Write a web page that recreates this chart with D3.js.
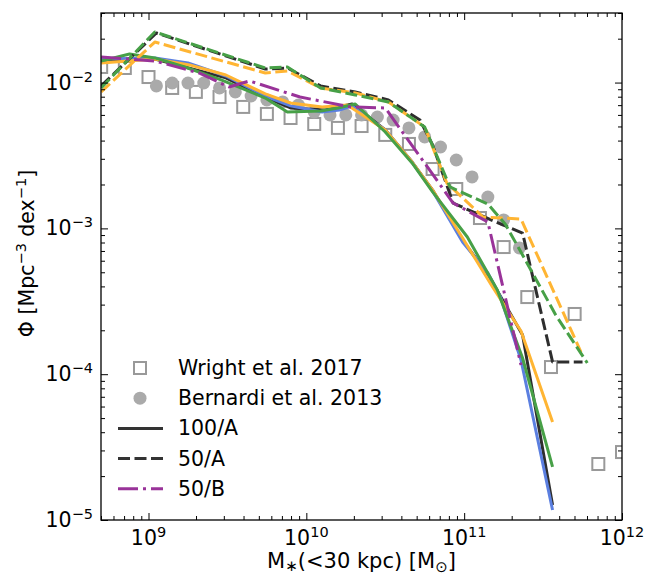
<!DOCTYPE html>
<meta charset="utf-8">
<style>
body { margin: 0; background: #fff; }
text { font-family: "DejaVu Sans", sans-serif; fill: #000; }
.axis path { display: none; }
.axis line { stroke: #000; stroke-width: 1; }
.line { fill: none; stroke-width: 3; stroke-linejoin: round; }
</style>
<svg width="646" height="576"></svg>
<script src="https://cdn.jsdelivr.net/npm/d3@7"></script>
<script>
// log10(M*/Msun) and log10(Phi)
var wrightLogM   = [8.70, 8.85, 9.00, 9.15, 9.30, 9.45, 9.60, 9.75, 9.90, 10.05, 10.20, 10.35, 10.50, 10.65, 10.80, 10.95, 11.10, 11.25, 11.40, 11.55, 11.70, 11.85, 12.00];
var wrightLogPhi = [-1.893, -1.900, -1.962, -2.037, -2.064, -2.099, -2.167, -2.215, -2.243, -2.284, -2.311, -2.298, -2.359, -2.421, -2.593, -2.730, -2.929, -3.128, -3.471, -3.951, -3.587, -4.616, -4.534];

var bernardiLogM   = [9.05, 9.15, 9.25, 9.35, 9.45, 9.55, 9.65, 9.75, 9.85, 9.95, 10.05, 10.15, 10.25, 10.35, 10.45, 10.55, 10.65, 10.75, 10.85, 10.95, 11.05, 11.15, 11.25, 11.35];
var bernardiLogPhi = [-2.023, -2.003, -2.003, -2.003, -2.037, -2.064, -2.092, -2.119, -2.133, -2.154, -2.202, -2.222, -2.222, -2.222, -2.236, -2.257, -2.311, -2.373, -2.442, -2.531, -2.647, -2.785, -2.942, -3.134];

// 100/A, solid
var blackSolidLogM   = [8.70, 9.04, 9.49, 9.74, 9.90, 10.12, 10.29, 10.50, 10.67, 10.80, 10.99, 11.16, 11.37, 11.56];
var blackSolidLogPhi = [-1.845, -1.838, -1.968, -2.099, -2.174, -2.188, -2.147, -2.325, -2.545, -2.737, -3.080, -3.333, -3.731, -4.897];
var blueSolidLogM    = [8.70, 9.04, 9.25, 9.49, 9.74, 9.90, 10.10, 10.21, 10.29, 10.50, 10.67, 10.80, 10.99, 11.15, 11.23, 11.36, 11.56];
var blueSolidLogPhi  = [-1.838, -1.831, -1.866, -1.955, -2.092, -2.160, -2.202, -2.188, -2.160, -2.325, -2.545, -2.743, -3.093, -3.306, -3.471, -3.903, -4.931];
var orangeSolidLogM   = [8.70, 9.04, 9.26, 9.49, 9.74, 9.90, 10.10, 10.26, 10.50, 10.67, 10.80, 10.99, 11.18, 11.36, 11.56];
var orangeSolidLogPhi = [-1.866, -1.838, -1.879, -1.948, -2.078, -2.140, -2.167, -2.154, -2.325, -2.545, -2.737, -3.066, -3.402, -3.704, -4.328];
var greenSolidLogM   = [8.70, 8.88, 9.04, 9.23, 9.46, 9.74, 9.88, 10.09, 10.20, 10.31, 10.50, 10.67, 10.80, 11.02, 11.21, 11.37, 11.56];
var greenSolidLogPhi = [-1.852, -1.804, -1.831, -1.893, -1.982, -2.106, -2.202, -2.195, -2.174, -2.147, -2.339, -2.551, -2.750, -3.059, -3.422, -3.889, -4.636];

// 50/A, dashed
var blackDashLogM   = [8.70, 9.05, 9.74, 9.88, 10.09, 10.31, 10.52, 10.72, 10.80, 10.93, 11.17, 11.37, 11.56, 11.75];
var blackDashLogPhi = [-2.023, -1.660, -1.907, -1.900, -2.023, -2.064, -2.119, -2.257, -2.428, -2.826, -2.942, -3.032, -3.916, -3.916];
var orangeDashLogM   = [8.70, 9.04, 9.74, 9.88, 10.09, 10.31, 10.52, 10.75, 10.89, 11.12, 11.36, 11.74];
var orangeDashLogPhi = [-2.064, -1.722, -1.934, -1.920, -2.037, -2.071, -2.133, -2.305, -2.689, -2.922, -2.936, -3.848];
var greenDashLogM   = [8.70, 9.04, 9.74, 9.88, 10.09, 10.31, 10.52, 10.75, 10.91, 11.15, 11.26, 11.37, 11.58, 11.78];
var greenDashLogPhi = [-2.037, -1.653, -1.900, -1.893, -2.037, -2.085, -2.133, -2.305, -2.716, -2.833, -2.970, -3.182, -3.594, -3.923];

// 50/B, dash-dot
var purpleLogM   = [8.70, 9.04, 9.32, 9.51, 9.64, 9.96, 10.28, 10.50, 10.93, 11.15, 11.36];
var purpleLogPhi = [-1.824, -1.852, -1.934, -2.030, -1.989, -2.099, -2.167, -2.174, -2.826, -2.956, -3.937];

var xMajorExp = [9, 10, 11, 12];
var yMajorExp = [-5, -4, -3, -2];
var legendLabels = ["Wright et al. 2017", "Bernardi et al. 2013", "100/A", "50/A", "50/B"];

var cBlack = "#2e2e2e", cBlue = "#5b7fe0", cOrange = "#ffb533", cGreen = "#47a047", cPurple = "#993399";
var dashed = "12,4.5", dashdot = "20,5,3,5";

var series = [
  {m: blackSolidLogM, p: blackSolidLogPhi, color: cBlack, dash: null},
  {m: blueSolidLogM, p: blueSolidLogPhi, color: cBlue, dash: null},
  {m: orangeSolidLogM, p: orangeSolidLogPhi, color: cOrange, dash: null},
  {m: greenSolidLogM, p: greenSolidLogPhi, color: cGreen, dash: null},
  {m: blackDashLogM, p: blackDashLogPhi, color: cBlack, dash: dashed},
  {m: orangeDashLogM, p: orangeDashLogPhi, color: cOrange, dash: dashed},
  {m: greenDashLogM, p: greenDashLogPhi, color: cGreen, dash: dashed},
  {m: purpleLogM, p: purpleLogPhi, color: cPurple, dash: dashdot}
];

function pairs(m, p) { return m.map(function(v, i) { return [Math.pow(10, v), Math.pow(10, p[i])]; }); }

var svg = d3.select("svg"),
    margin = {top: 13, right: 24, bottom: 56, left: 101},
    width = +svg.attr("width") - margin.left - margin.right,
    height = +svg.attr("height") - margin.top - margin.bottom,
    g = svg.append("g").attr("transform", "translate(" + margin.left + "," + margin.top + ")");

var x = d3.scaleLog().domain([5e8, 1e12]).range([0, width]),
    y = d3.scaleLog().domain([1e-5, 3e-2]).range([height, 0]);

function minors(lo, hi) {
  var out = [];
  for (var e = Math.floor(Math.log10(lo)); e <= Math.ceil(Math.log10(hi)); e++)
    for (var k = 2; k <= 9; k++) { var v = k * Math.pow(10, e); if (v >= lo && v <= hi) out.push(v); }
  return out;
}
var xMajor = xMajorExp.map(function(e) { return Math.pow(10, e); }),
    yMajor = yMajorExp.map(function(e) { return Math.pow(10, e); }),
    xMinor = minors(5e8, 1e12), yMinor = minors(1e-5, 3e-2);

g.append("clipPath").attr("id", "clip").append("rect").attr("width", width).attr("height", height);
var plot = g.append("g").attr("clip-path", "url(#clip)");

// observations
plot.selectAll(".sq").data(pairs(wrightLogM, wrightLogPhi)).enter().append("rect")
    .attr("x", function(d) { return x(d[0]) - 6; })
    .attr("y", function(d) { return y(d[1]) - 6; })
    .attr("width", 12).attr("height", 12)
    .style("fill", "none").style("stroke", "#999").style("stroke-width", 2);
plot.selectAll(".ci").data(pairs(bernardiLogM, bernardiLogPhi)).enter().append("circle")
    .attr("cx", function(d) { return x(d[0]); })
    .attr("cy", function(d) { return y(d[1]); })
    .attr("r", 6.5).style("fill", "#aaa");

var line = d3.line().x(function(d) { return x(d[0]); }).y(function(d) { return y(d[1]); });
plot.selectAll(".line").data(series).enter().append("path")
    .attr("class", "line")
    .attr("d", function(s) { return line(pairs(s.m, s.p)); })
    .style("stroke", function(s) { return s.color; })
    .style("stroke-dasharray", function(s) { return s.dash; });

// axes, ticks inward on all sides
function ax(gen, vals, size, tr) {
  g.append("g").attr("class", "axis").attr("transform", tr)
    .call(gen.tickValues(vals).tickSize(size).tickFormat(""));
}
[[xMajor, -7], [xMinor, -4]].forEach(function(t) {
  ax(d3.axisBottom(x), t[0], t[1], "translate(0," + height + ")");
  ax(d3.axisTop(x), t[0], t[1], "translate(0,0)");
});
[[yMajor, -7], [yMinor, -4]].forEach(function(t) {
  ax(d3.axisLeft(y), t[0], t[1], "translate(0,0)");
  ax(d3.axisRight(y), t[0], t[1], "translate(" + width + ",0)");
});
g.append("rect").attr("width", width).attr("height", height)
    .style("fill", "none").style("stroke", "#000").style("stroke-width", 1.3);

// tick labels
xMajorExp.forEach(function(e) {
  var t = g.append("text").attr("x", x(Math.pow(10, e))).attr("y", height + 25)
      .attr("text-anchor", "middle").style("font-size", "20.5px");
  t.append("tspan").text("10");
  t.append("tspan").attr("dy", "-8").style("font-size", "14.5px").text(e);
});
yMajorExp.forEach(function(e) {
  var t = g.append("text").attr("x", -8).attr("y", y(Math.pow(10, e)) + 7)
      .attr("text-anchor", "end").style("font-size", "20.5px");
  t.append("tspan").text("10");
  t.append("tspan").attr("dy", "-8").style("font-size", "14.5px").text("\u2212" + (-e));
});

// axis titles
var xl = g.append("text").attr("x", width / 2).attr("y", height + 48)
    .attr("text-anchor", "middle").style("font-size", "21px");
xl.append("tspan").text("M");
xl.append("tspan").attr("dy", 3).style("font-size", "15px").text("\u2217");
xl.append("tspan").attr("dy", -3).text("(<30 kpc) [M");
xl.append("tspan").attr("dy", 4).style("font-size", "15px").text("\u2299");
xl.append("tspan").attr("dy", -4).text("]");

var yl = g.append("text").attr("transform", "translate(" + (27 - margin.left) + "," + (height / 2 - 13) + ") rotate(-90)")
    .attr("text-anchor", "middle").attr("dy", "0.35em").style("font-size", "20.5px");
yl.append("tspan").text("\u03a6 [Mpc");
yl.append("tspan").attr("dy", -8).style("font-size", "14.5px").text("\u22123");
yl.append("tspan").attr("dy", 8).text(" dex");
yl.append("tspan").attr("dy", -8).style("font-size", "14.5px").text("\u22121");
yl.append("tspan").attr("dy", 8).text("]");

// legend
var leg = svg.append("g");
legendLabels.forEach(function(lab, i) {
  var cy = 368 + i * 30.2;
  if (i === 0) leg.append("rect").attr("x", 134).attr("y", cy - 6).attr("width", 12).attr("height", 12)
      .style("fill", "none").style("stroke", "#999").style("stroke-width", 2);
  else if (i === 1) leg.append("circle").attr("cx", 140).attr("cy", cy).attr("r", 6.5).style("fill", "#aaa");
  else leg.append("line").attr("x1", 118).attr("x2", 163).attr("y1", cy).attr("y2", cy)
      .style("stroke", i === 4 ? cPurple : "#333").style("stroke-width", 3)
      .style("stroke-dasharray", i === 3 ? dashed : i === 4 ? dashdot : null);
  leg.append("text").attr("x", 178).attr("y", cy + 7).style("font-size", "20.5px").text(lab);
});
</script>
